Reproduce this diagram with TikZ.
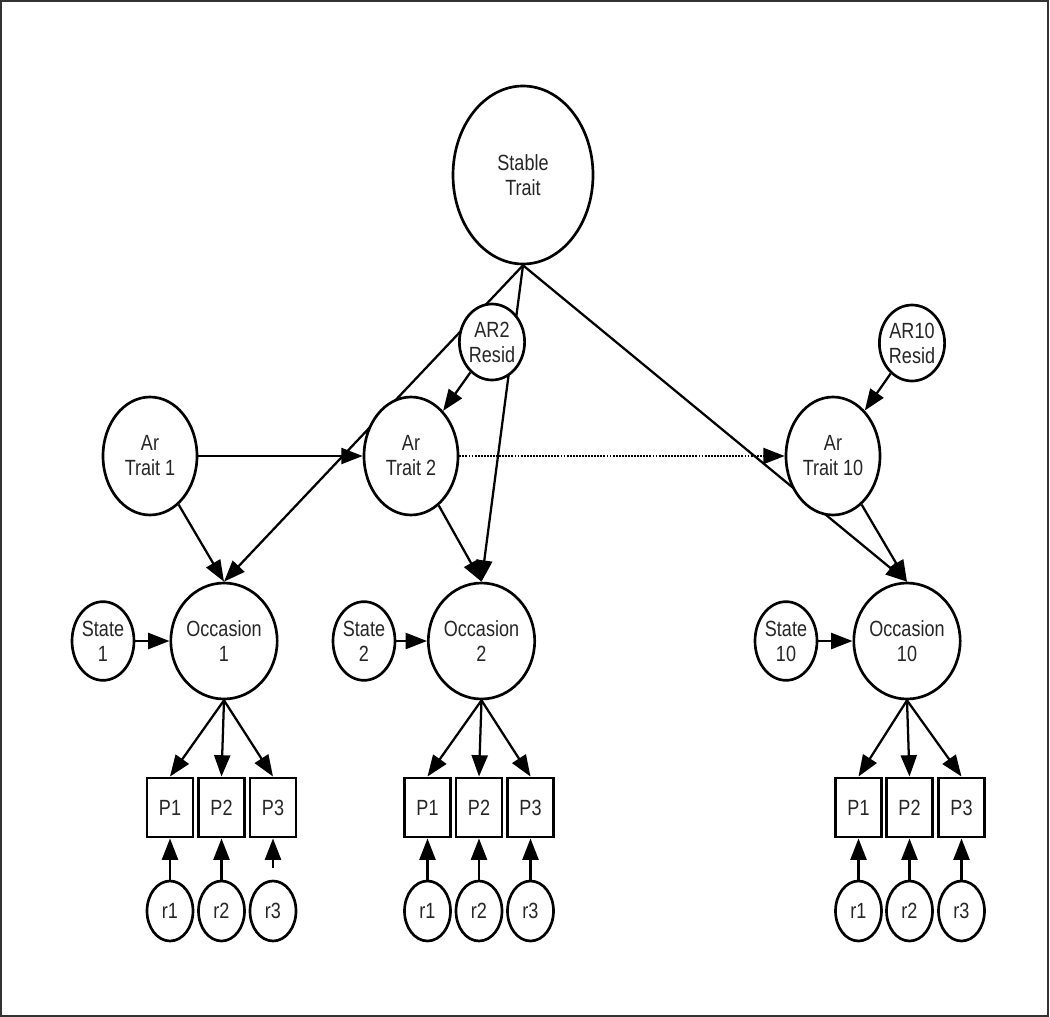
\documentclass[tikz,border=0pt]{standalone}
\usepackage{fontspec}
\setmainfont{Liberation Sans}[FakeStretch=0.82]
\usetikzlibrary{shapes.geometric,arrows.meta,backgrounds,calc}
\begin{document}
\begin{tikzpicture}[x=0.75pt,y=-0.75pt,
  every node/.style={font=\fontsize{16.5}{18.75}\selectfont, text=black!85},
  lat/.style={ellipse, draw=black, line width=2pt, fill=white, inner sep=0pt, align=center},
  topnode/.style={lat, minimum width=105pt, minimum height=133.5pt},
  arnode/.style={lat, minimum width=70.5pt, minimum height=88.5pt},
  occnode/.style={lat, minimum width=70.5pt, minimum height=87pt},
  statenode/.style={lat, minimum width=46.5pt, minimum height=59pt},
  residnode/.style={lat, minimum width=46.5pt, minimum height=57pt},
  errnode/.style={lat, minimum width=34.5pt, minimum height=45pt},
  obsnode/.style={rectangle, draw=black, line width=2.2pt, fill=white, inner sep=0pt, minimum width=34.5pt, minimum height=44.25pt},
  conn/.style={line width=1.7pt, -{Triangle[length=16pt,width=12pt]}},
  dotconn/.style={conn, dash pattern=on 1.4pt off 0.9pt},
  frame/.style={line width=1.2pt, draw=black!80}]
\useasboundingbox (0,0) rectangle (1050,1017);

% latent nodes
\node[topnode] (st) at (523,175) {Stable\\Trait};
\node[residnode] (res2) at (492,342) {AR2\\Resid};
\node[residnode] (res10) at (912,343) {AR10\\Resid};
\node[arnode] (ar1) at (150,456) {Ar\\Trait 1};
\node[arnode] (ar2) at (411,456) {Ar\\Trait 2};
\node[arnode] (ar10) at (833,456) {Ar\\Trait 10};

\foreach \g/\ox/\sx/\a/\b/\c in {1/224/103/170/221.5/273, 2/481.5/364/427.5/479/530.5, 10/907/786/858.5/909.5/961.5} {
  \node[occnode] (occ\g) at (\ox,641) {Occasion\\\g};
  \node[statenode] (s\g) at (\sx,641) {State\\\g};
  \node[obsnode] (p\g a) at (\a,807.5) {P1};
  \node[obsnode] (p\g b) at (\b,807.5) {P2};
  \node[obsnode] (p\g c) at (\c,807.5) {P3};
  \node[errnode] (r\g a) at (\a,911) {r1};
  \node[errnode] (r\g b) at (\b,911) {r2};
  \node[errnode] (r\g c) at (\c,911) {r3};
}
\coordinate (r1cstart) at ($(r1c.north)+(0,-12)$);

\begin{scope}[on background layer]
  \draw[frame] (1,1) rectangle (1048,1016);
  \draw[conn] (st.south) -- (occ1.north);
  \draw[conn] (st.south) -- (occ2.north);
  \draw[conn] (st.south) -- (occ10.north);
  \draw[conn] (res2) -- (ar2);
  \draw[conn] (res10) -- (ar10);
  \draw[conn] (ar1) -- (ar2);
  \draw[dotconn] (ar2) -- (ar10);
  \draw[conn] (ar1) -- (occ1.north);
  \draw[conn] (ar2) -- (occ2.north);
  \draw[conn] (ar10) -- (occ10.north);
  \foreach \g in {1,2,10} {
    \draw[conn] (s\g) -- (occ\g);
    \draw[conn] (occ\g.south) -- (p\g a.north);
    \draw[conn] (occ\g.south) -- (p\g b.north);
    \draw[conn] (occ\g.south) -- (p\g c.north);
    \draw[conn] (r\g a.north) -- (p\g a.south);
    \draw[conn] (r\g b.north) -- (p\g b.south);
  }
  \draw[conn] (r1cstart) -- (p1c.south);
  \draw[conn] (r2c.north) -- (p2c.south);
  \draw[conn] (r10c.north) -- (p10c.south);
\end{scope}
\end{tikzpicture}
\end{document}
